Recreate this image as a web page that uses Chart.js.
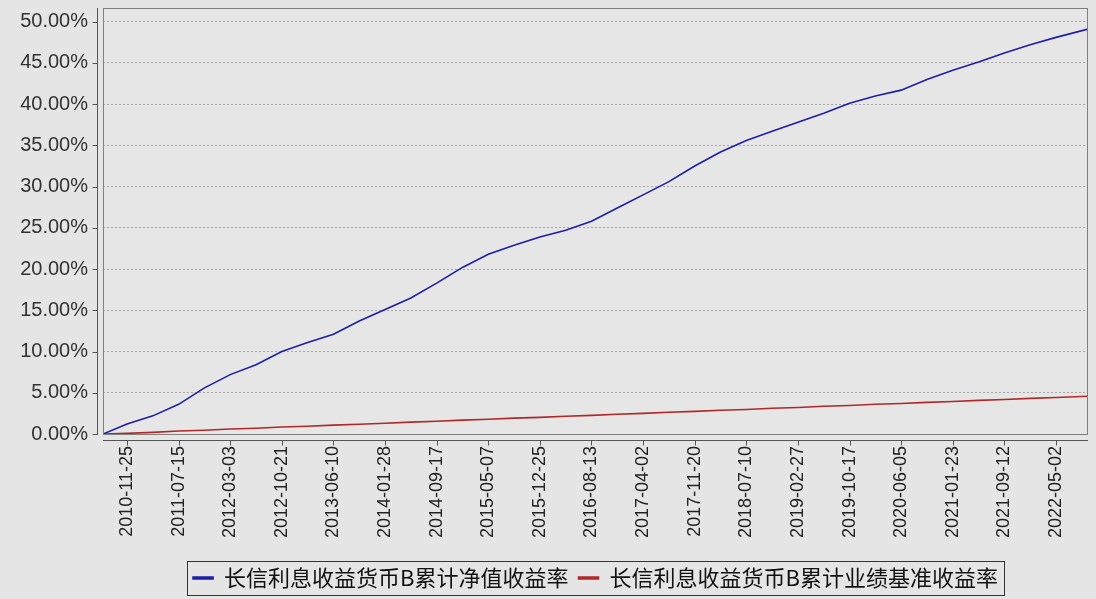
<!DOCTYPE html>
<html lang="zh-CN">
<head>
    <meta charset="UTF-8">
    <title>长信利息收益货币B 累计收益率</title>
    <script src="https://cdn.jsdelivr.net/npm/chart.js"></script>
    <style>
        * { margin: 0; padding: 0; box-sizing: border-box; }
        body { background: #e5e5e5; }
        .chart-container { position: relative; width: 1096px; height: 599px; }
    </style>
</head>
<body>
    <div class="chart-container">
        <canvas id="navChart"></canvas>
    </div>

    <script>
        // sample dates (roughly every 116 days)
        const dates = ['2010-08-09', '2010-11-25', '2011-03-21', '2011-07-15', '2011-11-08', '2012-03-03', '2012-06-27',
            '2012-10-21', '2013-02-14', '2013-06-10', '2013-10-04', '2014-01-28', '2014-05-24', '2014-09-17',
            '2015-01-11', '2015-05-07', '2015-08-31', '2015-12-25', '2016-04-19', '2016-08-13', '2016-12-07',
            '2017-04-02', '2017-07-27', '2017-11-20', '2018-03-16', '2018-07-10', '2018-11-03', '2019-02-27',
            '2019-06-23', '2019-10-17', '2020-02-10', '2020-06-05', '2020-09-29', '2021-01-23', '2021-05-19',
            '2021-09-12', '2022-01-06', '2022-05-02', '2022-09-23'];

        // 累计净值收益率 (%)
        const navReturn = [0, 1.2, 2.2, 3.6, 5.6, 7.2, 8.4, 10.0, 11.1, 12.1, 13.7, 15.1, 16.5, 18.3, 20.2, 21.8,
            22.9, 23.9, 24.7, 25.8, 27.4, 29.0, 30.6, 32.5, 34.2, 35.6, 36.7, 37.8, 38.9, 40.1, 41.0, 41.7, 43.0,
            44.1, 45.1, 46.2, 47.2, 48.1, 49.1];

        // 业绩基准收益率 (%)
        const benchReturn = [0, 0.08, 0.2, 0.36, 0.46, 0.6, 0.7, 0.84, 0.94, 1.08, 1.18, 1.3, 1.44, 1.54, 1.68,
            1.78, 1.92, 2.02, 2.16, 2.26, 2.4, 2.5, 2.64, 2.74, 2.88, 2.98, 3.12, 3.22, 3.36, 3.46, 3.6, 3.7, 3.84,
            3.94, 4.08, 4.18, 4.32, 4.42, 4.58];

        const tickLabels = ['2010-11-25', '2011-07-15', '2012-03-03', '2012-10-21', '2013-06-10', '2014-01-28',
            '2014-09-17', '2015-05-07', '2015-12-25', '2016-08-13', '2017-04-02', '2017-11-20', '2018-07-10',
            '2019-02-27', '2019-10-17', '2020-06-05', '2021-01-23', '2021-09-12', '2022-05-02'];

        const yTicks = [0, 5, 10, 15, 20, 25, 30, 35, 40, 45, 50];
        const yMax = 51.66;

        const seriesNames = ['长信利息收益货币B累计净值收益率', '长信利息收益货币B累计业绩基准收益率'];
        const seriesColors = ['#1e1ea8', '#b02828'];

        const dayOf = s => Date.parse(s + 'T00:00:00Z') / 86400000;
        const toPoints = values => values.map((v, i) => ({ x: dayOf(dates[i]), y: v }));

        // plot background, frame and the detached axis lines
        const framePlugin = {
            id: 'frame',
            beforeDraw(chart) {
                const { ctx, chartArea: a } = chart;
                ctx.save();
                ctx.fillStyle = '#e5e5e5';
                ctx.fillRect(0, 0, chart.width, chart.height);
                ctx.fillStyle = '#e6e6e6';
                ctx.fillRect(a.left, a.top, a.right - a.left, a.bottom - a.top);
                ctx.restore();
            },
            afterDraw(chart) {
                const { ctx, chartArea: a, scales } = chart;
                ctx.save();
                ctx.strokeStyle = '#808080';
                ctx.lineWidth = 1;
                ctx.strokeRect(a.left + 0.5, a.top + 0.5, a.right - a.left - 1, a.bottom - a.top);

                ctx.strokeStyle = '#555';
                ctx.beginPath();
                // y axis
                const ax = a.left - 5.5;
                ctx.moveTo(ax, a.top);
                ctx.lineTo(ax, a.bottom + 1);
                yTicks.forEach(v => {
                    const y = Math.round(scales.y.getPixelForValue(v)) + 0.5;
                    ctx.moveTo(ax - 5, y);
                    ctx.lineTo(ax, y);
                });
                // x axis
                const ay = a.bottom + 6.5;
                ctx.moveTo(a.left, ay);
                ctx.lineTo(a.right, ay);
                tickLabels.forEach(d => {
                    const x = Math.round(scales.x.getPixelForValue(dayOf(d))) + 0.5;
                    ctx.moveTo(x, ay);
                    ctx.lineTo(x, ay + 5);
                });
                ctx.stroke();

                // box round the legend
                const boxes = chart.legend.legendHitBoxes;
                if (boxes.length) {
                    const left = Math.min(...boxes.map(b => b.left));
                    const right = Math.max(...boxes.map(b => b.left + b.width));
                    const top = Math.min(...boxes.map(b => b.top));
                    const bottom = Math.max(...boxes.map(b => b.top + b.height));
                    ctx.strokeStyle = '#333';
                    ctx.strokeRect(Math.round(left - 6) + 0.5, Math.round(top - 6) + 0.5,
                        Math.round(right - left + 12), Math.round(bottom - top + 12));
                }
                ctx.restore();
            }
        };

        const ctx = document.getElementById('navChart').getContext('2d');
        new Chart(ctx, {
            type: 'line',
            data: {
                datasets: [
                    {
                        label: seriesNames[0],
                        data: toPoints(navReturn),
                        borderColor: seriesColors[0],
                        backgroundColor: seriesColors[0],
                        borderWidth: 1.6,
                        pointRadius: 0,
                        tension: 0
                    },
                    {
                        label: seriesNames[1],
                        data: toPoints(benchReturn),
                        borderColor: seriesColors[1],
                        backgroundColor: seriesColors[1],
                        borderWidth: 1.6,
                        pointRadius: 0,
                        tension: 0
                    }
                ]
            },
            options: {
                responsive: true,
                maintainAspectRatio: false,
                animation: false,
                layout: { padding: { top: 8, right: 8, left: 0, bottom: 0 } },
                plugins: {
                    tooltip: { enabled: false },
                    legend: {
                        position: 'bottom',
                        fullSize: false,
                        labels: {
                            color: '#111',
                            font: { size: 22, family: "'Noto Sans CJK SC', sans-serif" },
                            boxWidth: 20,
                            boxHeight: 2,
                            padding: 10
                        }
                    }
                },
                scales: {
                    x: {
                        type: 'linear',
                        min: dayOf(dates[0]),
                        max: dayOf(dates[dates.length - 1]),
                        afterBuildTicks: s => { s.ticks = tickLabels.map(d => ({ value: dayOf(d) })); },
                        afterFit: s => {
                            s.height = 123;
                            s.paddingLeft = 0;
                            s.paddingRight = 0;
                        },
                        grid: { display: false, drawTicks: false },
                        border: { display: false },
                        ticks: {
                            autoSkip: false,
                            minRotation: 90,
                            maxRotation: 90,
                            padding: 12,
                            color: '#222',
                            font: { size: 18, family: "'Liberation Sans', Arial, sans-serif" },
                            callback: (value, i) => tickLabels[i]
                        }
                    },
                    y: {
                        min: 0,
                        max: yMax,
                        afterBuildTicks: s => { s.ticks = yTicks.map(v => ({ value: v })); },
                        afterFit: s => {
                            s.width = 103;
                            s.paddingTop = 0;
                            s.paddingBottom = 0;
                        },
                        grid: {
                            color: '#a6a6a6',
                            drawTicks: false
                        },
                        border: { display: false, dash: [2, 2] },
                        ticks: {
                            padding: 15,
                            color: '#333',
                            font: { size: 20, family: "'Liberation Sans', Arial, sans-serif" },
                            callback: v => v.toFixed(2) + '%'
                        }
                    }
                }
            },
            plugins: [framePlugin]
        });
    </script>
</body>
</html>
